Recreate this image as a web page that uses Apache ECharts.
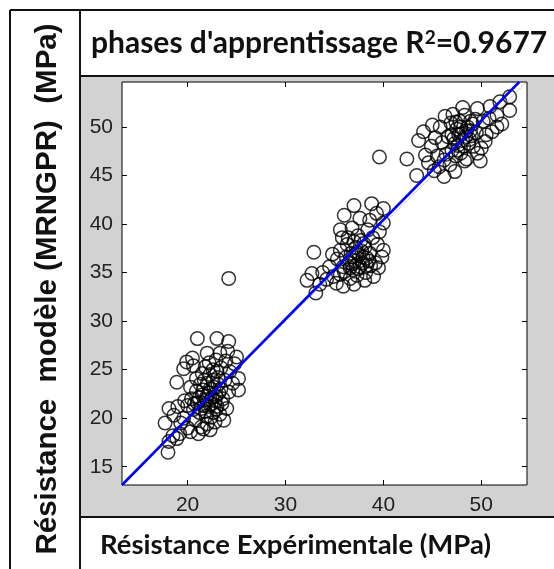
<!DOCTYPE html>
<html>
<head>
<meta charset="utf-8">
<script src="https://cdn.jsdelivr.net/npm/echarts@6/dist/echarts.min.js"></script>
<style>
  html, body { margin: 0; padding: 0; background: #fff; }
  #chart { width: 554px; height: 569px; }
</style>
</head>
<body>
<div id="chart"></div>
<script>
const lowGroup = [
  [18.0,16.5],[18.1,17.6],[18.5,18.2],[19.2,18.4],[18.9,17.9],[17.7,19.5],[18.1,21.0],[18.6,20.3],
  [19.3,19.5],[19.0,21.2],[19.6,20.0],[20.0,19.0],[20.3,18.6],[21.1,18.4],[21.4,19.1],[20.8,19.8],
  [21.6,18.9],[22.0,19.4],[22.3,18.8],[22.8,19.6],[23.7,19.8],[23.3,20.4],[22.6,20.6],[21.9,20.2],
  [21.2,20.6],[20.6,20.9],[20.0,21.3],[19.7,21.8],[20.4,22.0],[21.0,21.6],[21.7,21.3],[22.4,21.5],
  [23.0,21.2],[24.0,21.0],[23.6,22.0],[22.9,22.3],[22.2,22.6],[21.5,22.4],[20.9,22.8],[20.3,23.2],
  [21.3,23.5],[22.0,23.6],[22.7,23.2],[23.4,23.0],[24.2,22.7],[25.2,22.9],[24.6,23.6],[23.8,23.9],
  [23.1,24.2],[22.3,24.5],[21.5,24.6],[20.9,24.1],[21.8,25.3],[22.6,25.0],[23.4,25.2],[24.3,24.8],
  [25.2,24.1],[24.8,25.6],[23.9,25.9],[22.9,26.0],[22.0,26.7],[20.6,25.4],[19.9,25.8],[19.6,25.1],
  [18.9,23.7],[20.5,26.2],[23.3,26.7],[25.0,26.3],[24.2,27.9],[23.0,28.2],[21.0,28.2],[24.1,26.9],
  [21.9,21.9],[22.5,22.1],[23.1,23.5],[21.8,20.7],[22.1,21.2],[22.8,21.8],[21.4,21.0],[22.3,23.0],
  [21.6,22.9],[23.2,22.6],[22.6,23.9],[21.2,22.1],[22.9,20.9],[22.0,22.3],[23.5,21.5],[21.7,23.9],
  [22.4,20.1],[20.7,21.5],[23.0,24.8],[22.2,25.7]
];
const midGroup = [
  [32.2,34.2],[33.1,32.9],[32.7,34.9],[32.9,37.1],[33.5,33.8],[33.8,35.0],[34.2,34.3],[34.9,34.6],
  [34.5,35.6],[35.2,33.9],[35.6,34.8],[35.9,35.6],[35.3,36.4],[34.8,36.9],[35.6,37.3],[36.2,36.6],
  [36.0,35.1],[36.6,34.4],[36.9,35.3],[37.3,34.7],[37.6,35.6],[37.1,36.2],[36.7,37.0],[36.3,37.9],
  [35.8,38.6],[35.6,39.4],[36.0,40.9],[37.0,41.9],[38.8,42.1],[39.3,41.1],[40.0,41.6],[40.0,40.1],
  [38.6,40.4],[37.6,40.6],[36.8,39.6],[37.4,38.8],[38.0,38.0],[37.8,37.2],[38.3,36.5],[38.7,35.7],
  [38.2,35.0],[39.0,34.6],[39.5,35.5],[39.85,36.6],[40.0,37.3],[39.4,37.9],[38.9,38.6],[39.6,39.2],
  [38.4,39.4],[37.2,37.6],[36.5,36.0],[37.9,36.0],[36.4,38.6],[38.1,34.2],[37.0,33.8],[35.9,33.6],
  [36.8,35.9],[37.5,36.8],[38.6,37.0],[39.2,36.0],[37.4,35.4],[37.9,36.6],[36.9,36.6],[38.1,37.6],
  [37.3,37.1],[36.6,35.5],[38.5,36.2],[37.7,38.3],[37.0,38.2],[38.3,35.7]
];
const highGroup = [
  [42.4,46.7],[43.4,45.0],[43.6,48.6],[44.1,49.5],[45.0,50.2],[45.8,50.0],[46.2,44.9],[45.2,45.5],
  [44.6,46.3],[45.5,47.0],[44.9,48.0],[46.0,48.4],[46.4,47.2],[46.8,46.1],[47.3,45.4],[47.0,47.6],
  [46.6,49.0],[47.2,48.8],[47.6,48.1],[47.9,47.3],[48.3,46.5],[48.5,46.7],[48.0,49.3],[47.5,49.8],
  [46.9,50.4],[47.8,50.6],[48.3,51.2],[48.6,50.0],[48.8,48.7],[49.2,48.0],[49.6,47.3],[50.0,47.8],
  [49.5,49.4],[49.1,50.3],[49.6,51.9],[50.2,50.6],[50.5,49.2],[51.1,49.5],[50.9,52.1],[51.9,52.6],
  [52.9,53.1],[52.9,51.7],[52.1,50.3],[51.6,51.2],[50.4,48.5],[49.9,46.5],[48.2,48.0],[47.4,47.0],
  [46.2,46.6],[45.7,45.9],[48.9,49.6],[47.1,51.3],[46.3,51.1],[45.3,48.9],[44.3,47.1],[49.4,50.8],
  [48.1,52.0],[50.8,50.9],[51.6,50.0],[47.7,49.2],[48.4,49.0],[47.3,48.3],[48.7,48.3],[47.9,50.0],
  [48.5,49.6],[47.0,49.2],[49.0,49.1],[47.6,47.6],[48.1,48.6],[48.9,50.6],[47.4,50.5]
];
const outliers = [[24.2,34.4],[39.6,46.9]];
const fitLine = [[13.3,13.12],[53.88,54.63]];
const identityLine = [[13.3,13.3],[54.63,54.63]];
const xTicks = [20, 30, 40, 50];
const yTicks = [15, 20, 25, 30, 35, 40, 45, 50];
const xRange = [13.3, 54.67];
const yRange = [13.12, 54.63];

const chart = echarts.init(document.getElementById('chart'));

const sideAxis = (pos, range) => ({
  type: 'value',
  position: pos,
  min: range[0],
  max: range[1],
  axisLine: { show: false },
  axisTick: { show: true, inside: true, length: 5, customValues: pos === 'top' ? xTicks : yTicks, lineStyle: { color: '#000' } },
  axisLabel: { show: false },
  splitLine: { show: false }
});

chart.setOption({
  animation: false,
  grid: {
    left: 122, top: 82, width: 405, height: 403,
    show: true, backgroundColor: '#fff', borderColor: '#000', borderWidth: 1
  },
  xAxis: [
    {
      type: 'value', min: xRange[0], max: xRange[1],
      axisLine: { show: false },
      axisTick: { inside: true, length: 5, customValues: xTicks, lineStyle: { color: '#000' } },
      axisLabel: { customValues: xTicks, fontFamily: 'Liberation Sans', fontSize: 21, color: '#222', margin: 10 },
      splitLine: { show: false }
    },
    sideAxis('top', xRange)
  ],
  yAxis: [
    {
      type: 'value', min: yRange[0], max: yRange[1],
      axisLine: { show: false },
      axisTick: { inside: true, length: 5, customValues: yTicks, lineStyle: { color: '#000' } },
      axisLabel: { customValues: yTicks, fontFamily: 'Liberation Sans', fontSize: 21, color: '#222', margin: 9 },
      splitLine: { show: false }
    },
    sideAxis('right', yRange)
  ],
  graphic: [
    { type: 'rect', z: -10, shape: { x: 81, y: 77, width: 480, height: 440 }, style: { fill: '#d2d2d2' } },
    { type: 'line', z: 10, shape: { x1: 10, y1: 10, x2: 560, y2: 10 }, style: { stroke: '#111', lineWidth: 2 } },
    { type: 'line', z: 10, shape: { x1: 10, y1: 10, x2: 10, y2: 580 }, style: { stroke: '#111', lineWidth: 2 } },
    { type: 'line', z: 10, shape: { x1: 80, y1: 10, x2: 80, y2: 580 }, style: { stroke: '#111', lineWidth: 2 } },
    { type: 'line', z: 10, shape: { x1: 80, y1: 76, x2: 560, y2: 76 }, style: { stroke: '#111', lineWidth: 2 } },
    { type: 'line', z: 10, shape: { x1: 80, y1: 517, x2: 560, y2: 517 }, style: { stroke: '#111', lineWidth: 2 } },
    {
      type: 'text', x: 91, y: 43, z: 10,
      style: {
        text: "{a|phases d'apprentissage R}{s|2}{a|=0.9677}",
        verticalAlign: 'middle',
        rich: {
          a: { fontFamily: 'Lato', fontWeight: 'bold', fontSize: 30, fill: '#111' },
          s: { fontFamily: 'Lato', fontWeight: 'bold', fontSize: 19, fill: '#111', verticalAlign: 'top' }
        }
      }
    },
    {
      type: 'text', x: 100, y: 545, z: 10,
      style: { text: 'Résistance Expérimentale (MPa)', verticalAlign: 'middle', fontFamily: 'Lato', fontWeight: 'bold', fontSize: 27.5, fill: '#111' }
    },
    {
      type: 'text', x: 48, y: 289, z: 10, rotation: Math.PI / 2,
      style: { text: 'Résistance  modèle (MRNGPR)  (MPa)', align: 'center', verticalAlign: 'middle', fontFamily: 'Liberation Sans', fontWeight: 'bold', fontSize: 29.5, fill: '#111' }
    }
  ],
  series: [
    ...[lowGroup, midGroup, highGroup, outliers].map(d => ({
      type: 'scatter', data: d, symbol: 'circle', symbolSize: 13.5,
      itemStyle: { color: 'rgba(0,0,0,0)', borderColor: '#000', borderWidth: 1.5 },
      z: 2
    })),
    {
      type: 'line', data: identityLine, showSymbol: false, z: 3,
      lineStyle: { color: '#999', width: 1, type: 'dotted' }
    },
    {
      type: 'line', data: fitLine, showSymbol: false, z: 4,
      lineStyle: { color: '#0000ff', width: 2.5 }
    }
  ]
});
</script>
</body>
</html>
